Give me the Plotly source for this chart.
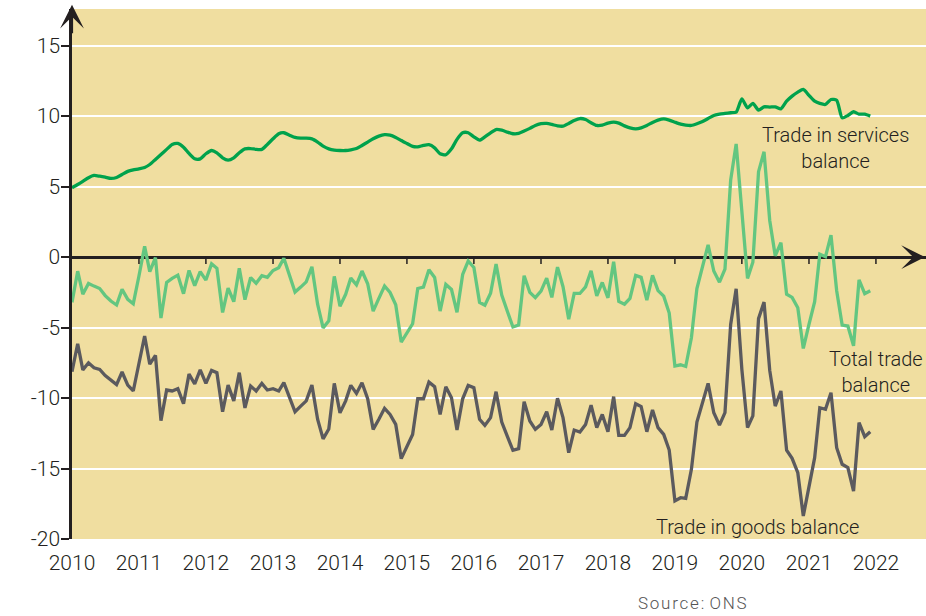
import plotly.graph_objects as go
import pandas as pd

# Monthly, Jan 2010 - Dec 2021, £ billion
months = pd.date_range("2010-01-01", periods=144, freq="MS")

services = [
    4.92, 5.15, 5.37, 5.63, 5.79, 5.74, 5.67, 5.58, 5.65, 5.86, 6.08, 6.19,
    6.26, 6.36, 6.57, 6.93, 7.28, 7.64, 7.99, 8.06, 7.80, 7.35, 6.97, 6.97,
    7.33, 7.56, 7.40, 7.04, 6.88, 7.04, 7.40, 7.68, 7.70, 7.64, 7.64, 7.99,
    8.39, 8.75, 8.82, 8.65, 8.49, 8.44, 8.44, 8.39, 8.16, 7.87, 7.68, 7.59,
    7.56, 7.56, 7.61, 7.70, 7.92, 8.16, 8.39, 8.58, 8.68, 8.65, 8.49, 8.27,
    8.06, 7.85, 7.82, 7.92, 7.97, 7.75, 7.33, 7.26, 7.68, 8.35, 8.82, 8.82,
    8.53, 8.30, 8.53, 8.82, 9.05, 9.00, 8.87, 8.75, 8.77, 8.94, 9.13, 9.34,
    9.46, 9.48, 9.41, 9.31, 9.29, 9.48, 9.69, 9.83, 9.76, 9.53, 9.34, 9.36,
    9.50, 9.57, 9.50, 9.31, 9.17, 9.10, 9.17, 9.34, 9.55, 9.72, 9.81, 9.72,
    9.57, 9.43, 9.36, 9.34, 9.46, 9.62, 9.83, 10.05, 10.14, 10.19, 10.24, 10.28,
    11.23, 10.59, 10.90, 10.43, 10.66, 10.64, 10.66, 10.52, 11.06, 11.42, 11.70, 11.89,
    11.47, 11.06, 10.90, 10.83, 11.18, 11.13, 9.88, 10.05, 10.31, 10.14, 10.14, 10.00,
]

goods = [
    -8.13, -6.15, -8.00, -7.50, -7.85, -7.97, -8.40, -8.70, -9.05, -8.15, -9.08, -9.50,
    -7.60, -5.60, -7.60, -6.97, -11.60, -9.43, -9.50, -9.34, -10.40, -8.30, -9.00, -8.00,
    -8.96, -8.04, -8.20, -10.97, -9.08, -10.20, -8.20, -10.70, -9.15, -9.50, -8.96, -9.43,
    -9.34, -9.50, -8.90, -9.90, -10.97, -10.57, -10.20, -9.08, -11.50, -12.90, -12.20, -8.96,
    -11.05, -10.20, -9.10, -9.67, -8.91, -10.05, -12.22, -11.51, -10.73, -11.16, -11.87, -14.30,
    -13.40, -12.58, -10.05, -10.05, -8.87, -9.20, -11.16, -9.20, -9.98, -12.27, -10.05, -9.10,
    -9.27, -11.51, -11.94, -11.39, -9.55, -11.70, -12.70, -13.71, -13.59, -10.26, -11.63, -12.22,
    -11.87, -10.97, -12.27, -10.02, -11.39, -13.88, -12.27, -12.41, -11.87, -10.50, -12.10, -11.16,
    -12.39, -9.90, -12.65, -12.65, -12.10, -10.40, -10.61, -12.39, -10.85, -12.10, -12.58, -13.69,
    -17.30, -17.07, -17.12, -15.06, -11.70, -10.33, -8.96, -11.04, -11.92, -11.04, -4.78, -2.25,
    -7.97, -12.10, -11.27, -4.37, -3.19, -8.04, -10.57, -9.50, -13.69, -14.28, -15.30, -18.37,
    -16.24, -14.23, -10.69, -10.80, -9.62, -13.52, -14.70, -14.94, -16.60, -11.75, -12.74, -12.39,
]

total = [
    -3.21, -1.00, -2.63, -1.87, -2.06, -2.23, -2.73, -3.12, -3.40, -2.29, -3.00, -3.31,
    -1.34, 0.76, -1.03, -0.04, -4.32, -1.79, -1.51, -1.28, -2.60, -0.95, -2.03, -1.03,
    -1.63, -0.48, -0.80, -3.93, -2.20, -3.16, -0.80, -3.02, -1.45, -1.86, -1.32, -1.44,
    -0.95, -0.75, -0.08, -1.25, -2.48, -2.13, -1.76, -0.69, -3.34, -5.03, -4.52, -1.37,
    -3.49, -2.64, -1.49, -1.97, -0.99, -1.89, -3.83, -2.93, -2.05, -2.51, -3.38, -6.03,
    -5.34, -4.73, -2.23, -2.13, -0.90, -1.45, -3.83, -1.94, -2.30, -3.92, -1.23, -0.28,
    -0.74, -3.21, -3.41, -2.57, -0.50, -2.70, -3.83, -4.96, -4.82, -1.32, -2.50, -2.88,
    -2.41, -1.49, -2.86, -0.71, -2.10, -4.40, -2.58, -2.58, -2.11, -0.97, -2.76, -1.80,
    -2.89, -0.33, -3.15, -3.34, -2.93, -1.30, -1.44, -3.05, -1.30, -2.38, -2.77, -3.97,
    -7.73, -7.64, -7.76, -5.72, -2.24, -0.71, 0.87, -0.99, -1.78, -0.85, 5.46, 8.03,
    3.26, -1.51, -0.37, 6.06, 7.47, 2.60, 0.09, 1.02, -2.63, -2.86, -3.60, -6.48,
    -4.77, -3.17, 0.21, 0.03, 1.56, -2.39, -4.82, -4.89, -6.29, -1.61, -2.60, -2.39,
]

year_ticks = [f"{y}-01-01" for y in range(2010, 2023)]
year_labels = [str(y) for y in range(2010, 2023)]
y_ticks = [-20, -15, -10, -5, 0, 5, 10, 15]
y_labels = ["-20", "-15", "-10", "-5", "0", "5", "10", "15"]

DARK = "#231f20"
FONT = "Roboto"
FW = 300

fig = go.Figure()
fig.add_trace(go.Scatter(x=months, y=services, mode="lines",
                         line=dict(color="#00a24c", width=3.3, shape="spline", smoothing=0.6),
                         name="Trade in services balance", hoverinfo="skip"))
fig.add_trace(go.Scatter(x=months, y=total, mode="lines",
                         line=dict(color="#63c680", width=3.3),
                         name="Total trade balance", hoverinfo="skip"))
fig.add_trace(go.Scatter(x=months, y=goods, mode="lines",
                         line=dict(color="#5b5a5e", width=3.3),
                         name="Trade in goods balance", hoverinfo="skip"))

x_range = ["2010-01-01", "2022-10-01"]

fig.update_layout(
    width=926, height=616,
    margin=dict(l=72, r=0, t=9, b=77),
    paper_bgcolor="white",
    plot_bgcolor="#f0dea0",
    showlegend=False,
    font=dict(family=FONT, color=DARK, size=19, weight=FW),
    xaxis=dict(type="date", range=x_range, tickvals=year_ticks, ticktext=year_labels,
               showgrid=False, zeroline=False, showline=False, ticks="",
               ticklabelstandoff=9,
               tickfont=dict(size=21, color=DARK, weight=FW)),
    yaxis=dict(range=[-20, 17.6], tickvals=y_ticks, ticktext=y_labels,
               showgrid=True, gridcolor="white", gridwidth=2,
               zeroline=True, zerolinecolor=DARK, zerolinewidth=2.5,
               showline=True, linecolor=DARK, linewidth=2.5,
               ticks="outside", ticklen=8, tickwidth=2, tickcolor=DARK,
               ticklabelstandoff=-3,
               tickfont=dict(size=21, color=DARK, weight=FW)),
)

# small tick marks hanging below the zero line at each year
for t in year_ticks[1:]:
    fig.add_shape(type="line", xref="x", yref="y", x0=t, x1=t,
                  ysizemode="pixel", yanchor=0, y0=0, y1=-7,
                  line=dict(color=DARK, width=1.5))

# axis arrows
fig.add_annotation(x=0.999, y=0, xref="paper", yref="y", ax=-30, ay=0,
                   showarrow=True, arrowhead=3, arrowsize=1.8, arrowwidth=2.2,
                   arrowcolor=DARK, text="")
fig.add_annotation(x=0, y=1.008, xref="paper", yref="paper", ax=0, ay=30,
                   showarrow=True, arrowhead=3, arrowsize=1.8, arrowwidth=2.2,
                   arrowcolor=DARK, text="")

# series labels
lab = dict(xref="paper", yref="paper", showarrow=False, align="center",
           xanchor="center", yanchor="middle")
fig.add_annotation(x=0.8946, y=0.7377, text="Trade in services<br>balance",
                   font=dict(size=20, color=DARK, weight=FW), **lab)
fig.add_annotation(x=0.9415, y=0.315, text="Total trade<br>balance",
                   font=dict(size=20, color=DARK, weight=FW), **lab)
fig.add_annotation(x=0.803, y=0.0226, text="Trade in goods balance",
                   font=dict(size=20, color=DARK, weight=FW), **lab)
fig.add_annotation(x=0.726, y=-0.1208,
                   text="\u200a".join("Source:") + "\u2009\u200a" + "\u200a".join("ONS"),
                   font=dict(size=17, color="#555555", weight=FW), **lab)

fig.write_html("out.html")
